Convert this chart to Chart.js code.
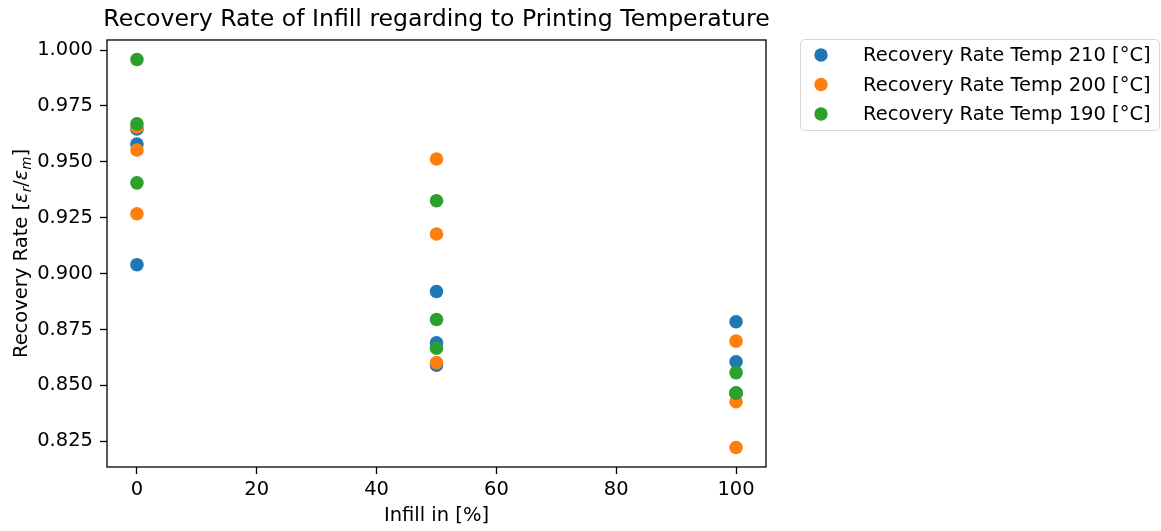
<!DOCTYPE html>
<html>
<head>
<meta charset="utf-8">
<script src="https://cdn.jsdelivr.net/npm/chart.js@4"></script>
<style>
  html, body { margin: 0; padding: 0; background: #fff; }
  #wrap { width: 1161px; height: 531px; }
</style>
</head>
<body>
<div id="wrap"><canvas id="chart" width="1161" height="531"></canvas></div>
<script>
// Infill (%) for each sample, shared by all three temperature series
var infill = [0, 0, 0, 50, 50, 50, 100, 100, 100];

// Recovery rate per printing temperature
var rate210 = [0.9647, 0.9580, 0.9040, 0.8920, 0.8690, 0.8590, 0.8785, 0.8606, 0.8465];
var rate200 = [0.9656, 0.9553, 0.9268, 0.9513, 0.9177, 0.8602, 0.8698, 0.8427, 0.8222];
var rate190 = [0.9958, 0.9670, 0.9406, 0.9326, 0.8795, 0.8666, 0.8557, 0.8465, 0.8467];

var seriesLabels = ['Recovery Rate Temp 210 [°C]', 'Recovery Rate Temp 200 [°C]', 'Recovery Rate Temp 190 [°C]'];
var xTicks = [0, 20, 40, 60, 80, 100];
var yTicks = [0.825, 0.850, 0.875, 0.900, 0.925, 0.950, 0.975, 1.000];

var chartTitle = 'Recovery Rate of Infill regarding to Printing Temperature';
var xTitle = 'Infill in [%]';

// matplotlib tab10
var blue = '#1f77b4', orange = '#ff7f0e', green = '#2ca02c';
var font = 'DejaVu Sans';
var fs = 19.5;

function points(ys) {
  return ys.map(function (y, i) { return { x: infill[i], y: y }; });
}

// frame, title, axis labels and the outside legend, drawn like matplotlib
var decorPlugin = {
  id: 'decor',
  afterDraw: function (chart) {
    var ctx = chart.ctx, a = chart.chartArea;
    ctx.save();
    ctx.strokeStyle = '#000';
    ctx.lineWidth = 1.3;
    ctx.strokeRect(a.left, a.top, a.right - a.left, a.bottom - a.top);

    ctx.fillStyle = '#000';
    ctx.textAlign = 'center';
    ctx.textBaseline = 'middle';
    ctx.font = '23.6px "' + font + '"';
    ctx.fillText(chartTitle, (a.left + a.right) / 2, 20);

    ctx.font = fs + 'px "' + font + '"';
    ctx.fillText(xTitle, (a.left + a.right) / 2, 516);

    // y label with mathtext-like subscripts
    var parts = [
      { t: 'Recovery Rate [', f: fs + 'px "' + font + '"', dy: 0 },
      { t: 'ε', f: 'italic ' + fs + 'px "' + font + '"', dy: 0 },
      { t: 'r', f: 'italic 13.5px "' + font + '"', dy: 4 },
      { t: '/', f: fs + 'px "' + font + '"', dy: 0 },
      { t: 'ε', f: 'italic ' + fs + 'px "' + font + '"', dy: 0 },
      { t: 'm', f: 'italic 13.5px "' + font + '"', dy: 4 },
      { t: ']', f: fs + 'px "' + font + '"', dy: 0 }
    ];
    var total = 0;
    parts.forEach(function (p) { ctx.font = p.f; p.w = ctx.measureText(p.t).width; total += p.w; });
    ctx.translate(20, (a.top + a.bottom) / 2);
    ctx.rotate(-Math.PI / 2);
    ctx.textAlign = 'left';
    ctx.textBaseline = 'alphabetic';
    var x = -total / 2;
    parts.forEach(function (p) {
      ctx.font = p.f;
      ctx.fillText(p.t, x, 7 + p.dy);
      x += p.w;
    });
    ctx.restore();

    // legend box
    ctx.save();
    var bx = 800.5, by = 39.5, bw = 359, bh = 91, r = 4;
    ctx.beginPath();
    ctx.moveTo(bx + r, by);
    ctx.arcTo(bx + bw, by, bx + bw, by + bh, r);
    ctx.arcTo(bx + bw, by + bh, bx, by + bh, r);
    ctx.arcTo(bx, by + bh, bx, by, r);
    ctx.arcTo(bx, by, bx + bw, by, r);
    ctx.closePath();
    ctx.fillStyle = 'rgba(255,255,255,0.8)';
    ctx.fill();
    ctx.strokeStyle = '#d6d6d6';
    ctx.lineWidth = 1;
    ctx.stroke();
    ctx.font = fs + 'px "' + font + '"';
    ctx.textBaseline = 'middle';
    ctx.textAlign = 'left';
    chart.data.datasets.forEach(function (ds, i) {
      var cy = 55 + i * 29.5;
      ctx.fillStyle = ds.backgroundColor;
      ctx.beginPath();
      ctx.arc(821, cy, 6.7, 0, Math.PI * 2);
      ctx.fill();
      ctx.fillStyle = '#000';
      ctx.fillText(ds.label, 863, cy + 1);
    });
    ctx.restore();
  }
};

new Chart(document.getElementById('chart'), {
  type: 'scatter',
  data: {
    datasets: [
      { label: seriesLabels[0], data: points(rate210), backgroundColor: blue, borderWidth: 0, pointRadius: 6.8, order: 2 },
      { label: seriesLabels[1], data: points(rate200), backgroundColor: orange, borderWidth: 0, pointRadius: 6.8, order: 1 },
      { label: seriesLabels[2], data: points(rate190), backgroundColor: green, borderWidth: 0, pointRadius: 6.8, order: 0 }
    ]
  },
  options: {
    responsive: false,
    animation: false,
    events: [],
    layout: { padding: { top: 40, right: 395, bottom: 0, left: 0 } },
    scales: {
      x: {
        type: 'linear',
        min: -5,
        max: 105,
        afterFit: function (s) { s.height = 64; },
        afterBuildTicks: function (s) { s.ticks = xTicks.map(function (v) { return { value: v }; }); },
        grid: { drawOnChartArea: false, drawTicks: true, tickLength: 7, tickColor: '#000', tickWidth: 1.3 },
        border: { display: false },
        ticks: { color: '#000', padding: 4, font: { family: font, size: fs }, maxRotation: 0,
          callback: function (v) { return String(v); } }
      },
      y: {
        type: 'linear',
        min: 0.8135,
        max: 1.0045,
        afterFit: function (s) { s.width = 107; },
        afterBuildTicks: function (s) { s.ticks = yTicks.map(function (v) { return { value: v }; }); },
        grid: { drawOnChartArea: false, drawTicks: true, tickLength: 7, tickColor: '#000', tickWidth: 1.3 },
        border: { display: false },
        ticks: { color: '#000', padding: 7, font: { family: font, size: fs },
          callback: function (v) { return v.toFixed(3); } }
      }
    },
    plugins: {
      legend: { display: false },
      tooltip: { enabled: false }
    }
  },
  plugins: [decorPlugin]
});
</script>
</body>
</html>
